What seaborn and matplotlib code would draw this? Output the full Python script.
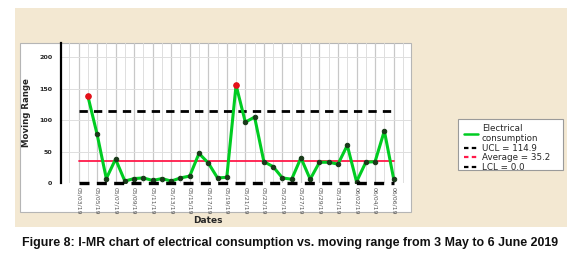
import pandas as pd
import numpy as np
import matplotlib
matplotlib.use('Agg')
import matplotlib.pyplot as plt
import matplotlib.dates as mdates
from matplotlib.lines import Line2D
from matplotlib.patches import Rectangle
import seaborn as sns

# Moving range values, 4 May to 6 June 2019
mr_dates = pd.date_range('2019-05-04', '2019-06-06', freq='D')
mr_values = [139, 78, 7, 38, 3, 7, 8, 4, 7, 3, 8, 11, 47, 32, 8, 9, 156, 97, 105,
             34, 26, 8, 6, 40, 6, 33, 33, 30, 60, 2, 33, 34, 83, 7]
tick_dates = pd.date_range('2019-05-03', '2019-06-06', freq='2D')
ucl = 114.9
average = 35.2
lcl = 0.0

df = pd.DataFrame({'date': mr_dates, 'mr': mr_values})

sns.set_style('white')
fig = plt.figure(figsize=(5.8, 2.61), dpi=100)

# beige frame and white chart panel
fig.patches.append(Rectangle((0.026, 0.130), 0.952, 0.839, transform=fig.transFigure,
                             facecolor='#f3e8d2', edgecolor='none', zorder=-3))
fig.patches.append(Rectangle((0.0345, 0.188), 0.674, 0.648, transform=fig.transFigure,
                             facecolor='white', edgecolor='#b5b5b5', lw=0.8, zorder=-2))
# legend box
fig.patches.append(Rectangle((0.79, 0.349), 0.181, 0.195, transform=fig.transFigure,
                             facecolor='white', edgecolor='#9a9a9a', lw=0.8, zorder=-2))

ax = fig.add_axes([0.105, 0.299, 0.604, 0.536])
ax.set_facecolor('none')

start = pd.Timestamp('2019-05-03')
end = pd.Timestamp('2019-06-06')

ax.plot([start, end], [ucl, ucl], color='black', ls=(0, (3, 2.2)), lw=2)
ax.plot([start, end], [average, average], color='#ff1a4a', lw=1.3)
ax.plot([start, end], [lcl, lcl], color='black', ls=(0, (3, 2.2)), lw=2.4, clip_on=False, zorder=5)

sns.lineplot(data=df, x='date', y='mr', ax=ax, color='#00cc22', lw=2.2,
             marker='o', markersize=3.2, markerfacecolor='#1a3a1a',
             markeredgecolor='#1a3a1a', zorder=4)
out = df[df['mr'] > ucl]
ax.scatter(out['date'], out['mr'], color='#e8101a', s=14, zorder=6)

ax.set_xlim(start - pd.Timedelta(days=1.9), start + pd.Timedelta(days=35.9))
ax.set_ylim(0, 223)
ax.set_yticks([0, 50, 100, 150, 200])
ax.set_xticks(tick_dates)
ax.xaxis.set_minor_locator(mdates.DayLocator())
ax.xaxis.set_major_formatter(mdates.DateFormatter('%m/%d/%y'))
ax.grid(True, which='major', axis='x', color='#c8c8c8', lw=0.9)
ax.grid(True, which='minor', axis='x', color='#dedede', lw=0.7)
ax.grid(True, which='major', axis='y', color='#dedede', lw=0.7)
ax.tick_params(axis='x', which='both', length=0, labelsize=4.4, labelcolor='#555555',
               rotation=-90, pad=3)
ax.tick_params(axis='y', length=0, labelsize=4.6, pad=6)
for t in ax.get_yticklabels():
    t.set_fontweight('bold')

for s in ['top', 'right', 'bottom']:
    ax.spines[s].set_visible(False)
ax.spines['left'].set_color('black')
ax.spines['left'].set_linewidth(1.6)

ax.set_xlabel('')
ax.set_ylabel('Moving Range', fontsize=6.2, fontweight='bold', labelpad=6)
fig.text(0.359, 0.155, 'Dates', fontsize=6.5, fontweight='bold', ha='center', va='center')

handles = [
    Line2D([], [], color='#00cc22', lw=1.8),
    Line2D([], [], color='black', ls=(0, (2, 1.5)), lw=1.6),
    Line2D([], [], color='#ff1a4a', ls=(0, (2, 1.5)), lw=1.6),
    Line2D([], [], color='black', ls=(0, (2, 1.5)), lw=1.6),
]
labels = ['Electrical\nconsumption', 'UCL = 114.9', 'Average = 35.2', 'LCL = 0.0']
fig.legend(handles, labels, loc='upper left', bbox_to_anchor=(0.79, 0.548),
           frameon=False, fontsize=6.3, handlelength=1.6, handletextpad=0.4,
           labelspacing=0.05, borderpad=0.2)

fig.text(0.5, 0.069, 'Figure 8: I-MR chart of electrical consumption vs. moving range from 3 May to 6 June 2019',
         fontsize=8.9, fontweight='bold', family='Liberation Sans',
         ha='center', va='center', color='#111111')

fig.savefig('out.png', dpi=100)
